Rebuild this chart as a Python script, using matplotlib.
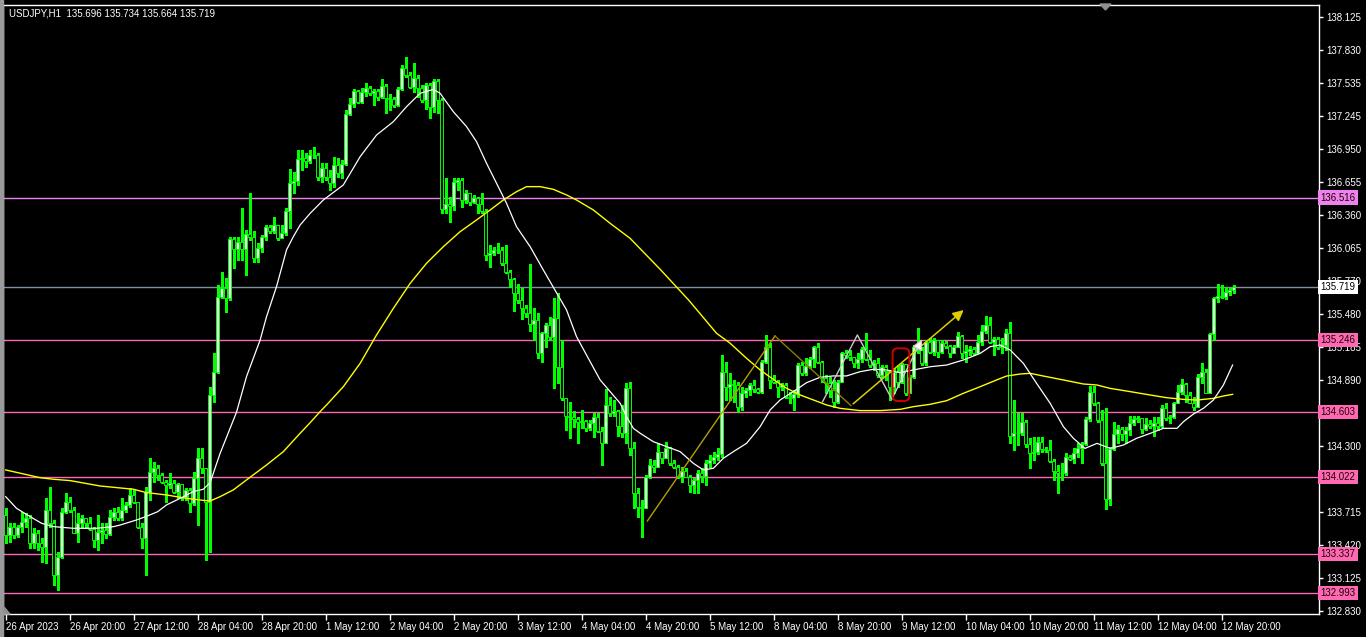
import numpy as np
import matplotlib.pyplot as plt
from matplotlib.patches import FancyBboxPatch, Polygon, Rectangle

plt.rcParams['font.family'] = ['Liberation Sans', 'DejaVu Sans']

header = "USDJPY,H1  135.696 135.734 135.664 135.719"

# USDJPY H1, 26 Apr 2023 04:00 .. 12 May 2023 23:00 (308 bars)
first_open = 133.687
close = [133.508, 133.583, 133.508, 133.583, 133.627, 133.663, 133.434, 133.529, 133.434, 133.398,
         133.731, 133.612, 133.152, 133.315, 133.716, 133.805, 133.731, 133.529, 133.612, 133.663,
         133.612, 133.559, 133.464, 133.538, 133.553, 133.517, 133.672, 133.716, 133.657, 133.731,
         133.776, 133.865, 133.805, 133.583, 133.479, 133.895, 134.073, 134.108, 134.043, 133.984,
         133.954, 133.975, 133.895, 133.960, 133.850, 133.910, 133.797, 134.019, 134.192, 134.102,
         133.805, 134.756, 134.964, 135.633, 135.707, 135.618, 136.144, 136.054, 136.117, 136.054,
         136.191, 136.161, 135.980, 136.063, 136.167, 136.251, 136.221, 136.271, 136.153, 136.197,
         136.396, 136.649, 136.664, 136.857, 136.866, 136.845, 136.895, 136.895, 136.702,
         136.776, 136.702, 136.649, 136.806, 136.738, 136.812, 137.258, 137.350, 137.466, 137.370,
         137.460, 137.489, 137.451, 137.466, 137.415, 137.510, 137.406, 137.391, 137.341, 137.480,
         137.668, 137.608, 137.504, 137.584, 137.489, 137.385, 137.519, 137.326, 137.555, 137.385,
         136.411, 136.458, 136.441, 136.652, 136.672, 136.494, 136.553, 136.479, 136.509, 136.458,
         136.396, 136.004, 136.025, 136.048, 136.048, 135.936, 135.855, 135.787, 135.662, 135.603,
         135.528, 135.484, 135.389, 135.424, 135.127, 135.306, 135.380, 135.270, 135.439, 135.003,
         134.726, 134.569, 134.557, 134.539, 134.518, 134.524, 134.465, 134.503, 134.563, 134.438,
         134.331, 134.667, 134.593, 134.613, 134.480, 134.414, 134.815,
         134.281, 133.880, 133.755, 133.746, 134.028, 134.132, 134.117, 134.251, 134.192, 134.281,
         134.147, 134.117, 134.028, 134.082, 134.028, 133.954, 133.999, 134.058, 134.034, 134.147,
         134.177, 134.207, 134.230, 134.964, 134.831, 134.854, 134.845, 134.652, 134.771, 134.801,
         134.845, 134.807, 134.786, 135.053, 135.187, 134.890, 134.875, 134.831, 134.845, 134.741,
         134.732, 134.762, 135.024, 134.949, 135.015, 135.074, 135.181, 135.053, 134.905, 134.860,
         134.801, 134.697, 134.875, 135.128, 135.113, 135.092, 135.044, 135.074, 135.163, 135.074,
         135.024, 135.044, 134.935, 135.009, 134.973, 134.831, 134.964, 134.875, 135.033, 134.777,
         134.920, 135.187, 135.157, 135.039, 135.232, 135.142, 135.246,
         135.142, 135.216, 135.193, 135.133, 135.187, 135.282, 135.133, 135.151, 135.163, 135.133,
         135.231, 135.326, 135.380, 135.231, 135.252, 135.181, 135.202, 135.306, 134.393, 134.414,
         134.414, 134.518, 134.319, 134.236, 134.251, 134.340, 134.272, 134.266, 134.171, 134.081,
         134.058, 134.064, 134.206, 134.182, 134.236, 134.280, 134.319, 134.539, 134.786, 134.682,
         134.533, 134.147, 133.826, 134.272, 134.405, 134.450, 134.408, 134.444, 134.503, 134.539,
         134.548, 134.450, 134.497, 134.480, 134.509, 134.480, 134.637, 134.548, 134.563, 134.688,
         134.786, 134.854, 134.756, 134.688, 134.652, 134.919, 134.964, 134.777, 135.300, 135.617,
         135.638, 135.632, 135.677, 135.696, 135.719]
high = [133.746, 133.612, 133.612, 133.597, 133.716, 133.702, 133.687, 133.568, 133.553, 133.479,
        133.835, 133.939, 133.642, 133.360, 133.746, 133.880, 133.850, 133.761, 133.702, 133.687,
        133.642, 133.672, 133.583, 133.687, 133.612, 133.612, 133.731, 133.746, 133.761, 133.835,
        133.805, 133.924, 133.910, 133.805, 133.612, 133.939, 134.192, 134.162, 134.132, 134.058,
        133.999, 134.058, 133.999, 133.969, 133.895, 133.924, 133.924, 134.073, 134.281, 134.281,
        134.102, 134.830, 135.128, 135.737, 135.855, 135.796, 136.167, 136.167, 136.167, 136.420,
        136.227, 136.554, 136.221, 136.108, 136.182, 136.271, 136.271, 136.340, 136.182, 136.271,
        136.420, 136.768, 136.747, 136.940, 136.940, 136.910, 136.940, 136.970, 136.910,
        136.821, 136.821, 136.761, 136.880, 136.865, 136.851, 137.296, 137.400, 137.480, 137.474,
        137.489, 137.534, 137.510, 137.480, 137.480, 137.570, 137.525, 137.439, 137.415, 137.504,
        137.697, 137.766, 137.638, 137.718, 137.608, 137.519, 137.540, 137.534, 137.570, 137.570,
        137.400, 136.687, 136.524, 136.687, 136.687, 136.687, 136.583, 136.553, 136.539, 136.524,
        136.559, 136.411, 136.093, 136.078, 136.108, 136.072, 136.093, 135.870, 135.796, 135.745,
        135.707, 135.558, 135.924, 135.528, 135.484, 135.320, 135.395, 135.454, 135.618, 135.668,
        135.246, 134.711, 134.697, 134.613, 134.563, 134.622, 134.533, 134.533, 134.593, 134.599,
        134.474, 134.807, 134.741, 134.711, 134.622, 134.667, 134.866,
        134.875, 134.340, 133.924, 133.820, 134.043, 134.183, 134.177, 134.325, 134.251, 134.340,
        134.296, 134.177, 134.132, 134.117, 134.103, 134.043, 134.013, 134.088, 134.103, 134.177,
        134.221, 134.251, 134.281, 135.113, 135.053, 134.949, 134.890, 134.875, 134.831, 134.816,
        134.860, 134.890, 134.816, 135.068, 135.291, 135.217, 134.935, 134.890, 134.860, 134.860,
        134.786, 134.801, 135.039, 135.053, 135.083, 135.098, 135.193, 135.217, 135.060, 134.935,
        134.920, 134.890, 134.890, 135.142, 135.157, 135.157, 135.083, 135.128, 135.187, 135.312,
        135.157, 135.068, 135.083, 135.024, 135.024, 134.949, 134.994, 135.024, 135.044, 134.935,
        134.935, 135.202, 135.350, 135.187, 135.246, 135.261, 135.261,
        135.231, 135.246, 135.240, 135.202, 135.202, 135.320, 135.291, 135.202, 135.193, 135.181,
        135.291, 135.380, 135.460, 135.454, 135.276, 135.276, 135.261, 135.341, 135.409, 134.711,
        134.592, 134.592, 134.533, 134.370, 134.384, 134.384, 134.384, 134.295, 134.355, 134.182,
        134.132, 134.147, 134.236, 134.221, 134.280, 134.325, 134.340, 134.563, 134.836, 134.836,
        134.696, 134.622, 134.637, 134.295, 134.518, 134.488, 134.474, 134.474, 134.569, 134.569,
        134.569, 134.548, 134.548, 134.533, 134.563, 134.563, 134.667, 134.682, 134.578, 134.696,
        134.845, 134.895, 134.860, 134.786, 134.741, 134.943, 135.038, 134.985, 135.311, 135.632,
        135.745, 135.736, 135.721, 135.707, 135.734]
low = [133.434, 133.449, 133.479, 133.494, 133.538, 133.583, 133.389, 133.389, 133.375, 133.271,
       133.256, 133.583, 133.063, 133.018, 133.300, 133.702, 133.716, 133.523, 133.449, 133.583,
       133.568, 133.553, 133.404, 133.375, 133.434, 133.479, 133.508, 133.642, 133.642, 133.642,
       133.716, 133.761, 133.791, 133.568, 133.389, 133.152, 133.820, 133.984, 133.999, 133.969,
       133.805, 133.924, 133.880, 133.835, 133.820, 133.820, 133.716, 133.776, 133.597, 134.058,
       133.286, 133.360, 134.697, 134.949, 135.618, 135.499, 135.603, 135.885, 135.959, 135.959,
       135.826, 136.138, 135.945, 135.945, 136.034, 136.138, 136.197, 136.197, 136.138, 136.153,
       136.182, 136.242, 136.554, 136.628, 136.762, 136.791, 136.821, 136.866, 136.672,
       136.657, 136.672, 136.583, 136.613, 136.702, 136.687, 136.806, 137.252, 137.326, 137.356,
       137.356, 137.421, 137.430, 137.341, 137.385, 137.400, 137.272, 137.296, 137.326, 137.332,
       137.474, 137.593, 137.489, 137.460, 137.415, 137.370, 137.302, 137.222, 137.281, 137.267,
       136.375, 136.375, 136.301, 136.405, 136.583, 136.435, 136.464, 136.449, 136.464, 136.375,
       136.375, 135.959, 135.900, 136.004, 136.019, 135.915, 135.846, 135.716, 135.508, 135.579,
       135.430, 135.454, 135.329, 135.246, 135.083, 135.053, 135.187, 135.246, 134.815, 134.860,
       134.711, 134.444, 134.370, 134.474, 134.331, 134.459, 134.435, 134.444, 134.385, 134.429,
       134.132, 134.325, 134.569, 134.569, 134.391, 134.385, 134.325,
       134.221, 133.746, 133.672, 133.488, 133.746, 134.013, 134.073, 134.117, 134.147, 134.192,
       134.132, 134.103, 134.013, 133.984, 134.022, 133.895, 133.880, 133.880, 133.984, 133.954,
       134.117, 134.147, 134.177, 134.207, 134.712, 134.712, 134.697, 134.608, 134.623, 134.741,
       134.756, 134.786, 134.771, 134.771, 135.039, 134.816, 134.860, 134.741, 134.801, 134.727,
       134.682, 134.623, 134.741, 134.935, 134.935, 134.994, 135.009, 135.039, 134.875, 134.771,
       134.741, 134.652, 134.682, 134.875, 135.083, 135.068, 135.009, 134.994, 135.053, 135.068,
       135.009, 134.979, 134.920, 134.905, 134.890, 134.712, 134.771, 134.831, 134.860, 134.756,
       134.771, 134.905, 135.128, 135.024, 135.024, 135.128, 135.113,
       135.098, 135.127, 135.172, 135.092, 135.157, 135.181, 135.083, 135.053, 135.112, 135.112,
       135.127, 135.202, 135.306, 135.216, 135.112, 135.163, 135.127, 135.157, 134.325, 134.266,
       134.310, 134.399, 134.295, 134.102, 134.177, 134.230, 134.250, 134.251, 134.162, 133.998,
       133.879, 133.998, 134.043, 134.177, 134.147, 134.206, 134.147, 134.310, 134.527, 134.667,
       134.518, 134.132, 133.737, 133.775, 134.266, 134.325, 134.355, 134.325, 134.399, 134.488,
       134.518, 134.414, 134.444, 134.459, 134.390, 134.444, 134.468, 134.533, 134.509, 134.548,
       134.682, 134.765, 134.696, 134.682, 134.622, 134.646, 134.860, 134.771, 134.771, 135.246,
       135.588, 135.617, 135.609, 135.647, 135.664]

# moving averages (bar position, price)
white_x = [0, 2.7, 6.1, 9, 11.9, 16.9, 22.7, 27, 28.6, 32.7, 35, 38, 40.2, 43.6, 46.9, 49.4, 51.1,
           53.6, 57.7, 60.2, 63.6, 65.2, 67.7, 70.2, 71.9, 73.6, 76.1, 78.6, 79.4, 84.4, 88.6, 92.7,
           96.9, 100.2, 103.6, 106.9, 108.6, 111.9, 115.2, 117.7, 120.2, 122.7, 125.2, 127.7, 131.1,
           134.4, 136.9, 140.2, 142.7, 146.1, 148.6, 151.1, 153.6, 155.2, 156.9, 158.6, 161.9, 165.2,
           168.6, 171.9, 174.4, 176.9, 179.4, 181.9, 185.2, 188.6, 191.1, 193.6, 196.9, 200.2, 203.6,
           206.9, 210.2, 213.6, 216.9, 220.2, 223.6, 226.9, 229.0, 231.1, 235.2, 239.4, 243.6, 246.1,
           248.6, 251.1, 254.4, 257.7, 261.1, 264.4, 266.9, 269.8, 272.8, 276.1, 279.4, 282.7, 286.1,
           289.4, 292.8, 294.4, 296.9, 299.4, 301.9, 304.4, 306.7]
white_y = [133.850, 133.746, 133.672, 133.612, 133.583, 133.568, 133.568, 133.583, 133.597, 133.642,
           133.672, 133.716, 133.776, 133.835, 133.895, 133.916, 133.975, 134.236, 134.603, 134.920,
           135.246, 135.454, 135.722, 136.049, 136.167, 136.271, 136.375, 136.465, 136.494, 136.628,
           136.880, 137.073, 137.192, 137.326, 137.445, 137.480, 137.445, 137.281, 137.148, 137.014,
           136.821, 136.643, 136.464, 136.256, 136.078, 135.870, 135.716, 135.514, 135.276, 135.053,
           134.890, 134.786, 134.682, 134.563, 134.459, 134.415, 134.340, 134.296, 134.251, 134.147,
           134.088, 134.103, 134.192, 134.251, 134.325, 134.474, 134.623, 134.712, 134.786, 134.866,
           134.914, 134.926, 134.926, 134.964, 134.985, 134.979, 134.955, 134.979, 134.994, 135.008,
           135.023, 135.068, 135.127, 135.187, 135.202, 135.157, 135.038, 134.860, 134.682, 134.474,
           134.370, 134.280, 134.325, 134.280, 134.310, 134.370, 134.414, 134.459, 134.459, 134.518,
           134.586, 134.637, 134.711, 134.845, 135.023]
yellow_x = [0, 8.6, 11.9, 16.1, 23.6, 31.9, 35.2, 40.2, 45.2, 48.6, 51.1, 53.6, 56.9, 60.2, 65.2,
            69.4, 73.6, 76.1, 78.6, 80.2, 84.4, 88.6, 92.7, 96.9, 101.1, 105.2, 109.4, 113.6, 117.7,
            121.1, 124.4, 127.7, 130.2, 133.6, 136.9, 140.2, 142.7, 146.9, 151.1, 156.1, 163.5,
            170.7, 177.7, 181.1, 185.2, 188.6, 192.7, 195.2, 198.6, 201.9, 205.2, 208.6, 213.6,
            218.6, 223.6, 226.9, 231.1, 235.2, 239.4, 243.6, 247.7, 250.2, 253.6, 256.1, 259.4,
            264.4, 269.4, 272.8, 276.1, 281.1, 286.1, 290.2, 294.4, 297.8, 301.9, 304.4, 306.7]
yellow_y = [134.088, 134.019, 134.005, 133.993, 133.945, 133.916, 133.886, 133.865, 133.835, 133.820,
            133.811, 133.850, 133.910, 133.999, 134.132, 134.251, 134.415, 134.509, 134.608, 134.667,
            134.830, 135.038, 135.291, 135.528, 135.751, 135.930, 136.078, 136.212, 136.316, 136.405,
            136.494, 136.568, 136.613, 136.613, 136.589, 136.539, 136.494, 136.405, 136.286, 136.152,
            135.880, 135.603, 135.306, 135.217, 135.083, 134.979, 134.875, 134.816, 134.756, 134.712,
            134.667, 134.637, 134.617, 134.617, 134.628, 134.652, 134.673, 134.705, 134.771, 134.830,
            134.890, 134.925, 134.943, 134.949, 134.925, 134.890, 134.854, 134.845, 134.815, 134.786,
            134.756, 134.732, 134.717, 134.711, 134.726, 134.747, 134.762]

# horizontal levels
level_prices = [136.516, 135.246, 134.603, 134.022, 133.337, 132.993]
level_colors = ['#ee82ee', '#ff69b4', '#ff69b4', '#ff69b4', '#ff69b4', '#ff69b4']
bid = 135.719

price_ticks = [138.125, 137.830, 137.535, 137.245, 136.950, 136.655, 136.360, 136.065, 135.770,
               135.480, 135.185, 134.890, 134.300, 133.715, 133.420, 133.125, 132.830]
time_labels = ["26 Apr 2023", "26 Apr 20:00", "27 Apr 12:00", "28 Apr 04:00", "28 Apr 20:00",
               "1 May 12:00", "2 May 04:00", "2 May 20:00", "3 May 12:00", "4 May 04:00",
               "4 May 20:00", "5 May 12:00", "8 May 04:00", "8 May 20:00", "9 May 12:00",
               "10 May 04:00", "10 May 20:00", "11 May 12:00", "12 May 04:00", "12 May 20:00"]

# drawn objects (bar position, price)
gold_zz_x = [160.4, 192.3, 211.3]
gold_zz_y = [133.633, 135.282, 134.661]
gold_arrow = [(211.3, 134.661), (240.0, 135.529)]
grey_zz_x = [204.2, 212.9, 221.5]
grey_zz_y = [134.696, 135.291, 134.720]
grey_arrow = [(221.5, 134.720), (229.4, 135.276)]
red_box = (221.7, 134.703, 225.9, 135.172)

close = np.array(close)
open_ = np.r_[first_open, close[:-1]]
high = np.maximum.reduce([np.array(high), open_, close])
low = np.minimum.reduce([np.array(low), open_, close])
x = np.arange(len(close))

fig = plt.figure(figsize=(13.66, 6.37), dpi=100, facecolor='black')
ax = fig.add_axes([3/1366, 23/637, 1316/1366, 609/637], facecolor='black')

for p, c in zip(level_prices, level_colors):
    ax.axhline(p, color=c, lw=1, zorder=1)
ax.axhline(bid, color='#8090a0', lw=1, zorder=1)

# candles
green = '#00ff00'
ax.vlines(x, low, high, color=green, lw=1, zorder=2, antialiased=False)
bull = close >= open_
ax.bar(x, close - open_, bottom=open_, width=0.72,
       color=np.where(bull, 'white', 'black'), edgecolor=green, linewidth=0.7, zorder=3)

ax.plot(yellow_x, yellow_y, color='#ffff00', lw=1.0, zorder=4)
ax.plot(white_x, white_y, color='white', lw=0.9, zorder=4)

# drawings
ax.plot(gold_zz_x[:2], gold_zz_y[:2], color='#b4a000', lw=1, zorder=5)
ax.plot(gold_zz_x[1:], gold_zz_y[1:], color='#8c7c00', lw=1, zorder=5)
ax.annotate('', xy=gold_arrow[1], xytext=gold_arrow[0],
            arrowprops=dict(arrowstyle='-|>', color='#e0cc00', lw=1.1, mutation_scale=16), zorder=5)
ax.plot(grey_zz_x, grey_zz_y, color='#c8c8c8', lw=1, zorder=5)
ax.annotate('', xy=grey_arrow[1], xytext=grey_arrow[0],
            arrowprops=dict(arrowstyle='-|>', color='#d0d0d0', fc='white', lw=1, mutation_scale=16), zorder=5)
bx0, by0, bx1, by1 = red_box
ax.add_patch(FancyBboxPatch((bx0, by0), bx1 - bx0, by1 - by0,
                            boxstyle='round,pad=0,rounding_size=1.3', mutation_aspect=4/112.2,
                            fc='none', ec='#d00000', lw=1.4, zorder=5))

ax.set_xlim(-0.675, 328.3)
ax.set_ylim(132.804, 138.232)

for s in ax.spines.values():
    s.set_color('white')
    s.set_linewidth(1)

ax.yaxis.tick_right()
ax.set_yticks(price_ticks)
ax.set_yticklabels([f"{v:.3f}" for v in price_ticks])
ax.tick_params(axis='y', colors='white', labelsize=7, length=3, width=1, pad=2)
ax.set_xticks(np.arange(len(time_labels)) * 16)
ax.set_xticklabels(time_labels, ha='left')
ax.tick_params(axis='x', colors='white', labelsize=7, length=4, width=1, pad=2)

# price labels on the right scale
for p, c in zip(level_prices, level_colors):
    ax.text(1.0012, p, f"{p:.3f}", transform=ax.get_yaxis_transform(), clip_on=False,
            fontsize=7, color='#200000', va='center', ha='left', zorder=10,
            bbox=dict(boxstyle='square,pad=0.22', fc=c, ec='none'))
ax.text(1.0012, bid, f"{bid:.3f}", transform=ax.get_yaxis_transform(), clip_on=False,
        fontsize=7, color='black', va='center', ha='left', zorder=10,
        bbox=dict(boxstyle='square,pad=0.22', fc='white', ec='none'))

fig.text(9/1366, 1 - 13/637, header, color='white', fontsize=7, va='center', ha='left')

# window edge and shift markers
fig.patches.append(Rectangle((0, 0), 3/1366, 1, transform=fig.transFigure, color='#9a9a9a'))
fig.patches.append(Polygon([(1100/1366, 1 - 4/637), (1111/1366, 1 - 4/637), (1105.5/1366, 1 - 10/637)],
                           closed=True, transform=fig.transFigure, color='#909090'))
fig.patches.append(Polygon([(4/1366, 23/637), (10/1366, 23/637), (4/1366, 30/637)],
                           closed=True, transform=fig.transFigure, color='#909090'))

fig.savefig('out.png', dpi=100, facecolor='black')
